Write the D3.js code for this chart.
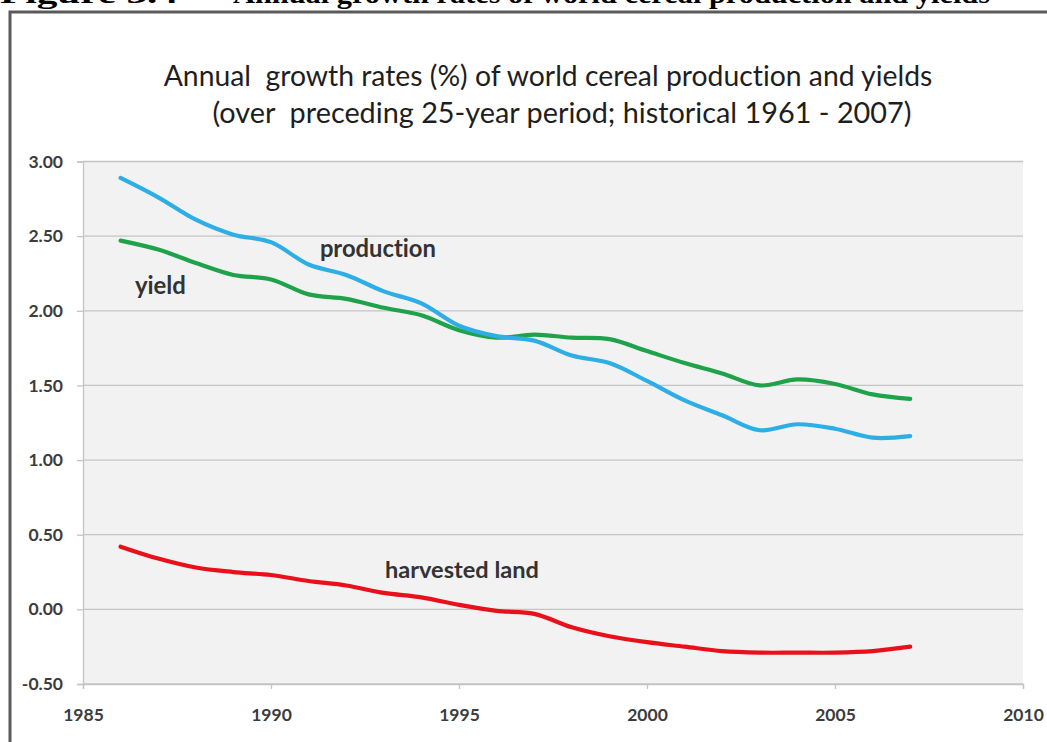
<!DOCTYPE html>
<html>
<head>
<meta charset="utf-8">
<script src="https://cdn.jsdelivr.net/npm/d3@7"></script>
<style>
  html, body { margin: 0; padding: 0; background: #ffffff; }
  svg { display: block; }
  text { font-variant-ligatures: none; }
</style>
</head>
<body>
<svg id="chart" width="1047" height="742"></svg>
<script>
// Annual growth rates (%) over the preceding 25-year period, 1986-2007
const years = [1986, 1987, 1988, 1989, 1990, 1991, 1992, 1993, 1994, 1995, 1996,
               1997, 1998, 1999, 2000, 2001, 2002, 2003, 2004, 2005, 2006, 2007];
const production = [2.89, 2.76, 2.61, 2.51, 2.46, 2.31, 2.24, 2.13, 2.05, 1.90, 1.83,
                    1.80, 1.70, 1.65, 1.53, 1.40, 1.30, 1.20, 1.24, 1.21, 1.15, 1.16];
const yieldRate = [2.47, 2.41, 2.32, 2.24, 2.21, 2.11, 2.08, 2.02, 1.97, 1.87, 1.82,
                   1.84, 1.82, 1.81, 1.73, 1.65, 1.58, 1.50, 1.54, 1.51, 1.44, 1.41];
const harvestedLand = [0.42, 0.34, 0.28, 0.25, 0.23, 0.19, 0.16, 0.11, 0.08, 0.03, -0.01,
                       -0.03, -0.12, -0.18, -0.22, -0.25, -0.28, -0.29, -0.29, -0.29, -0.28, -0.25];

const yTicks = [-0.5, 0, 0.5, 1, 1.5, 2, 2.5, 3];
const xTicks = [1985, 1990, 1995, 2000, 2005, 2010];

const headingLeft = "Figure 3.4";
const headingRight = "Annual growth rates of world cereal production and yields";
const titleLines = ["Annual  growth rates (%) of world cereal production and yields",
                    "(over  preceding 25-year period; historical 1961 - 2007)"];

// In-chart series labels, anchored at (year, value) on the data scales
const seriesLabels = [
  { name: "production",     year: 1991.30, value: 2.36, width: 116 },
  { name: "yield",          year: 1986.38, value: 2.11, width: 51 },
  { name: "harvested land", year: 1993.03, value: 0.21, width: 154 }
];

const svg = d3.select("#chart");
const uiFont = "Lato, 'Open Sans', 'DejaVu Sans', sans-serif";

// Shrink or grow a text node's font size so that it spans the given width
function fitWidth(sel, target) {
  const node = sel.node();
  const fs = parseFloat(sel.attr("font-size"));
  const w = node.getComputedTextLength();
  if (w > 0) sel.attr("font-size", (fs * target / w).toFixed(2));
  return sel;
}

// Document heading above the frame (mostly cropped off the top)
const head = svg.append("g")
  .attr("font-family", "'Liberation Serif', 'Times New Roman', serif")
  .attr("font-weight", "bold")
  .attr("fill", "#000");
head.append("text").attr("x", 0).attr("y", 3).attr("font-size", 28)
  .attr("textLength", 178).attr("lengthAdjust", "spacingAndGlyphs").text(headingLeft);
head.append("text").attr("x", 233).attr("y", 3).attr("font-size", 28)
  .attr("textLength", 757).attr("lengthAdjust", "spacingAndGlyphs").text(headingRight);

// Figure frame
svg.append("path")
  .attr("d", "M10,760 L10,12 L1060,12")
  .attr("fill", "none")
  .attr("stroke", "#5a5a5a")
  .attr("stroke-width", 3);

// Plot geometry
const x = d3.scaleLinear().domain([1985, 2010]).range([83, 1023]);
const y = d3.scaleLinear().domain([-0.5, 3]).range([684, 161.5]);

// Chart title
const titleG = svg.append("g")
  .attr("font-family", uiFont)
  .attr("fill", "#1e1e1e")
  .attr("text-anchor", "middle");
const t1 = titleG.append("text").attr("x", 548).attr("y", 86).attr("font-size", 24)
  .attr("xml:space", "preserve").style("white-space", "pre").text(titleLines[0]);
fitWidth(t1, 769);
const t2 = titleG.append("text").attr("x", 562).attr("y", 123).attr("font-size", 24)
  .attr("xml:space", "preserve").style("white-space", "pre").text(titleLines[1]);
fitWidth(t2, 699);

// Plot area background
svg.append("rect")
  .attr("x", x(1985)).attr("y", y(3))
  .attr("width", x(2010) - x(1985)).attr("height", y(-0.5) - y(3))
  .attr("fill", "#f2f2f2");

// Horizontal gridlines
svg.append("g")
  .selectAll("line")
  .data(yTicks)
  .join("line")
  .attr("x1", x(1985)).attr("x2", x(2010))
  .attr("y1", d => y(d)).attr("y2", d => y(d))
  .attr("stroke", "#c4c4c4")
  .attr("stroke-width", 1.3);

// Y axis
const yAxis = svg.append("g")
  .attr("transform", `translate(${x(1985)},0)`)
  .call(d3.axisLeft(y).tickValues(yTicks).tickSize(6).tickPadding(14)
    .tickFormat(d => d.toFixed(2)));
yAxis.select(".domain").attr("stroke", "#c4c4c4").attr("stroke-width", 1.3);
yAxis.selectAll(".tick line").attr("stroke", "#c4c4c4").attr("stroke-width", 1.3);
yAxis.selectAll(".tick text")
  .attr("font-family", uiFont).attr("font-weight", "bold")
  .attr("font-size", 17.5).attr("fill", "#3c3c3c");

// X axis
const xAxis = svg.append("g")
  .attr("transform", `translate(0,${y(-0.5)})`)
  .call(d3.axisBottom(x).tickValues(xTicks).tickSize(5).tickPadding(20)
    .tickFormat(d3.format("d")));
xAxis.select(".domain").attr("stroke", "#c4c4c4").attr("stroke-width", 1.3);
xAxis.selectAll(".tick line").attr("stroke", "#c4c4c4").attr("stroke-width", 1.3);
xAxis.selectAll(".tick text")
  .attr("font-family", uiFont).attr("font-weight", "bold")
  .attr("font-size", 17.5).attr("fill", "#3c3c3c");

// Smoothed series lines
const line = d3.line()
  .x((d, i) => x(years[i]))
  .y(d => y(d))
  .curve(d3.curveCatmullRom.alpha(0.5));

const series = [
  { values: harvestedLand, color: "#e8101a" },
  { values: yieldRate,     color: "#1fa34a" },
  { values: production,    color: "#2eaee6" }
];

svg.append("g")
  .selectAll("path")
  .data(series)
  .join("path")
  .attr("d", d => line(d.values))
  .attr("fill", "none")
  .attr("stroke", d => d.color)
  .attr("stroke-width", 4.2)
  .attr("stroke-linecap", "round")
  .attr("stroke-linejoin", "round");

// Series labels
const lab = svg.append("g")
  .attr("font-family", uiFont)
  .attr("font-weight", "bold")
  .attr("fill", "#333333");
seriesLabels.forEach(s => {
  const t = lab.append("text")
    .attr("x", x(s.year)).attr("y", y(s.value))
    .attr("font-size", 18)
    .text(s.name);
  fitWidth(t, s.width);
});
</script>
</body>
</html>
